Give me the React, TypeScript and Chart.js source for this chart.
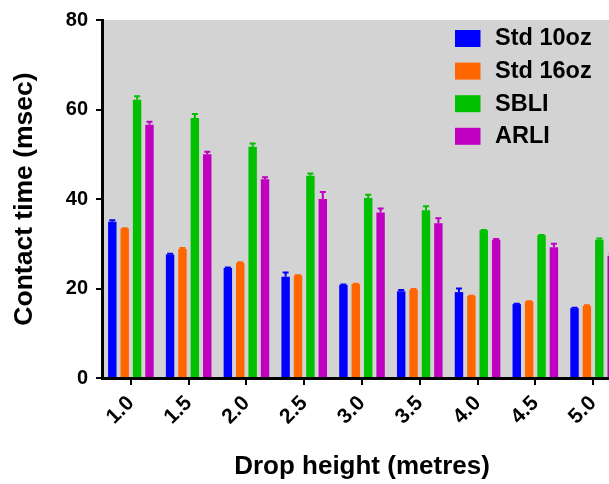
import React, { useEffect, useRef } from "react";
import { Chart, registerables } from "chart.js";

Chart.register(...registerables);

const categories = ["1.0", "1.5", "2.0", "2.5", "3.0", "3.5", "4.0", "4.5", "5.0"];
const seriesNames = ["Std 10oz", "Std 16oz", "SBLI", "ARLI"];
const seriesColors = ["#0000FF", "#FF6600", "#00C000", "#C000C0"];
const std10 = [34.9, 27.6, 24.6, 22.6, 20.8, 19.4, 19.2, 16.5, 15.6];
const std10Err = [0.6, 0.4, 0.3, 1.2, 0.3, 0.5, 1.0, 0.3, 0.3];
const std16 = [33.4, 28.8, 25.7, 22.9, 21.0, 19.7, 18.3, 17.1, 16.1];
const std16Err = [0.3, 0.5, 0.4, 0.3, 0.3, 0.4, 0.3, 0.3, 0.4];
const sbli = [62.2, 58.1, 51.7, 45.2, 40.2, 37.5, 33.0, 31.9, 30.9];
const sbliErr = [1.0, 1.1, 0.9, 0.7, 1.0, 1.1, 0.3, 0.3, 0.5];
const arli = [56.6, 50.0, 44.4, 40.0, 37.0, 34.6, 30.9, 29.2, 27.3];
const arliErr = [0.9, 0.8, 0.7, 1.8, 1.1, 1.3, 0.4, 1.0, 0.8];
const yTicks = [0, 20, 40, 60, 80];

const seriesValues = [std10, std16, sbli, arli];
const seriesErrors = [std10Err, std16Err, sbliErr, arliErr];

const FONT = "Arial, 'Liberation Sans', Helvetica, sans-serif";

const bgPlugin = {
  id: "bgPlugin",
  beforeDraw(chart: any) {
    const { ctx, chartArea, width, height } = chart;
    ctx.save();
    ctx.fillStyle = "#ffffff";
    ctx.fillRect(0, 0, width, height);
    ctx.fillStyle = "#D3D3D3";
    ctx.fillRect(chartArea.left, chartArea.top, chartArea.right - chartArea.left, chartArea.bottom - chartArea.top);
    ctx.restore();
  },
};

const errorBarPlugin = {
  id: "errorBarPlugin",
  afterDatasetsDraw(chart: any) {
    const ctx = chart.ctx;
    const yScale = chart.scales.y;
    chart.data.datasets.forEach((ds: any, i: number) => {
      const meta = chart.getDatasetMeta(i);
      const errs = seriesErrors[i];
      meta.data.forEach((bar: any, j: number) => {
        const v = ds.data[j];
        const base = yScale.getPixelForValue(v);
        const top = yScale.getPixelForValue(v + errs[j]);
        ctx.save();
        ctx.strokeStyle = ds.backgroundColor;
        ctx.lineWidth = 2;
        ctx.beginPath();
        ctx.moveTo(bar.x, base);
        ctx.lineTo(bar.x, top + 1);
        ctx.moveTo(bar.x - 3, top + 1);
        ctx.lineTo(bar.x + 3, top + 1);
        ctx.stroke();
        ctx.restore();
      });
    });
  },
};

const legendPlugin = {
  id: "customLegend",
  afterDraw(chart: any) {
    const ctx = chart.ctx;
    ctx.save();
    ctx.font = `bold 23.5px ${FONT}`;
    ctx.textBaseline = "middle";
    ctx.textAlign = "left";
    seriesNames.forEach((name, i) => {
      const top = 30 + i * 32.6;
      ctx.fillStyle = seriesColors[i];
      ctx.fillRect(455, top, 25.5, 17);
      ctx.fillStyle = "#000000";
      ctx.fillText(name, 495, top + 9);
    });
    ctx.restore();
  },
};

export default function App() {
  const canvasRef = useRef<HTMLCanvasElement | null>(null);

  useEffect(() => {
    const canvas = canvasRef.current;
    if (!canvas) return;
    const chart = new Chart(canvas, {
      type: "bar",
      data: {
        labels: categories,
        datasets: seriesNames.map((name, i) => ({
          label: name,
          data: seriesValues[i],
          backgroundColor: seriesColors[i],
          borderWidth: 0,
          categoryPercentage: 0.858,
          barPercentage: 0.68,
        })),
      },
      options: {
        responsive: false,
        animation: false,
        devicePixelRatio: 1,
        layout: { padding: { top: 19, right: 0, bottom: 0, left: 0 } },
        plugins: {
          legend: { display: false },
          tooltip: { enabled: false },
          title: { display: false },
        },
        scales: {
          x: {
            type: "category",
            offset: true,
            grid: {
              display: true,
              offset: false,
              drawOnChartArea: false,
              drawTicks: true,
              tickLength: 7,
              color: "#000000",
              lineWidth: 2,
            },
            border: { display: true, color: "#000000", width: 3 },
            ticks: {
              color: "#000000",
              font: { family: FONT, size: 21, weight: "bold" },
              minRotation: 45,
              maxRotation: 45,
              autoSkip: false,
              padding: 6,
            },
            title: {
              display: true,
              text: "Drop height (metres)",
              color: "#000000",
              font: { family: FONT, size: 26, weight: "bold", lineHeight: 1.2 },
              padding: { top: 0, bottom: 2 },
            },
            afterFit(scale: any) {
              scale.height = 106;
            },
          },
          y: {
            type: "linear",
            min: 0,
            max: 80,
            afterBuildTicks(scale: any) {
              scale.ticks = yTicks.map((v) => ({ value: v }));
            },
            grid: {
              display: true,
              drawOnChartArea: false,
              drawTicks: true,
              tickLength: 6,
              color: "#000000",
              lineWidth: 2,
            },
            border: { display: true, color: "#000000", width: 3 },
            ticks: {
              color: "#000000",
              font: { family: FONT, size: 20, weight: "bold" },
              padding: 8,
            },
            title: {
              display: true,
              text: "Contact time (msec)",
              color: "#000000",
              font: { family: FONT, size: 26.5, weight: "bold", lineHeight: 1.2 },
              padding: { top: 9, bottom: 0 },
            },
            afterFit(scale: any) {
              scale.width = 102;
            },
          },
        },
      },
      plugins: [bgPlugin, errorBarPlugin, legendPlugin],
    });
    return () => {
      chart.destroy();
    };
  }, []);

  return (
    <div
      style={{
        position: "absolute",
        left: 0,
        top: 0,
        width: 609,
        height: 484,
        overflow: "hidden",
        background: "#ffffff",
      }}
    >
      <canvas ref={canvasRef} width={622} height={484} style={{ display: "block", width: 622, height: 484 }} />
    </div>
  );
}
